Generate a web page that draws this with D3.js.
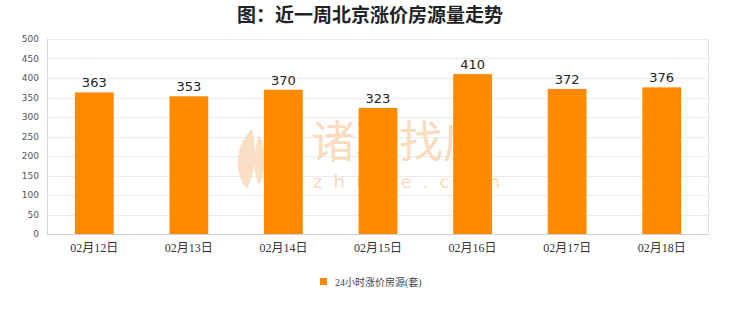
<!DOCTYPE html>
<html>
<head>
<meta charset="utf-8">
<script src="https://cdn.jsdelivr.net/npm/d3@7"></script>
<style>
  html, body { margin: 0; padding: 0; background: #fff; }
  svg { display: block; }
</style>
</head>
<body>
<div id="chart"></div>
<script>
// data
const dates = ['02月12日', '02月13日', '02月14日', '02月15日', '02月16日', '02月17日', '02月18日'];
const counts = [363, 353, 370, 323, 410, 372, 376];
const yTicks = [0, 50, 100, 150, 200, 250, 300, 350, 400, 450, 500];
const title = '图：近一周北京涨价房源量走势';
const seriesName = '24小时涨价房源(套)';

const W = 740, H = 312;
const M = { top: 39, right: 31, bottom: 78, left: 47 };
const innerW = W - M.left - M.right;
const innerH = H - M.top - M.bottom;

const ORANGE = '#ff8a00';
const SERIF = '"Liberation Serif", "DejaVu Serif", "Noto Sans CJK SC", serif';
const SANS = '"DejaVu Sans", "Noto Sans CJK SC", sans-serif';

const svg = d3.select('#chart').append('svg')
  .attr('width', W).attr('height', H)
  .style('background', '#fff');

svg.append('text')
  .attr('x', W / 2).attr('y', 22)
  .attr('text-anchor', 'middle')
  .style('font-family', '"Noto Sans CJK SC", sans-serif')
  .style('font-size', '19px').style('font-weight', 'bold')
  .attr('fill', '#222')
  .text(title);

const inner = svg.append('g').attr('transform', `translate(${M.left},${M.top})`);

const x = d3.scaleBand().domain(dates).range([0, innerW]).paddingInner(0.59).paddingOuter(0.295);
const y = d3.scaleLinear().domain([0, 500]).range([innerH, 0]);

// grid
inner.append('g')
  .selectAll('line').data(yTicks).join('line')
  .attr('x1', 0).attr('x2', innerW)
  .attr('y1', d => Math.round(y(d)) + 0.5).attr('y2', d => Math.round(y(d)) + 0.5)
  .attr('stroke', d => d === 0 ? '#d0d0d0' : '#ebebeb');
inner.append('line')
  .attr('x1', 0.5).attr('x2', 0.5).attr('y1', 0).attr('y2', innerH)
  .attr('stroke', '#d6d6d6');
inner.append('line')
  .attr('x1', innerW - 0.5).attr('x2', innerW - 0.5).attr('y1', 0).attr('y2', innerH)
  .attr('stroke', '#e3e3e3');

// watermark (faint site logo behind the bars)
const wm = inner.append('g').attr('fill', '#f8dcc0');
wm.append('path')
  .attr('d', 'M205,90 C188,105 186,135 200,150 C206,138 212,118 205,90 Z M212,96 C206,112 206,134 212,146 C220,130 220,110 212,96 Z')
  .attr('opacity', 0.9);
wm.append('text')
  .attr('x', 264).attr('y', 119)
  .style('font-family', '"Noto Sans CJK SC", sans-serif')
  .style('font-size', '44px')
  .text('诸葛找房');
wm.append('text')
  .attr('x', 266).attr('y', 149)
  .style('font-family', '"DejaVu Sans", sans-serif')
  .style('font-size', '18px').style('letter-spacing', '11px')
  .text('zhuge.com');

// y axis labels
inner.append('g')
  .selectAll('text').data(yTicks).join('text')
  .attr('x', -8).attr('y', d => y(d)).attr('dy', '0.35em')
  .attr('text-anchor', 'end')
  .style('font-family', SANS).style('font-size', '9px')
  .attr('fill', '#555')
  .text(d => d);

// bars
inner.append('g')
  .selectAll('rect').data(counts).join('rect')
  .attr('x', (d, i) => x(dates[i]))
  .attr('y', d => y(d))
  .attr('width', x.bandwidth())
  .attr('height', d => innerH - y(d))
  .attr('fill', ORANGE);

// value labels
inner.append('g')
  .selectAll('text').data(counts).join('text')
  .attr('x', (d, i) => x(dates[i]) + x.bandwidth() / 2)
  .attr('y', d => y(d) - 5)
  .attr('text-anchor', 'middle')
  .style('font-family', SANS).style('font-size', '13px')
  .attr('fill', '#222')
  .text(d => d);

// x labels
inner.append('g')
  .selectAll('text').data(dates).join('text')
  .attr('x', d => x(d) + x.bandwidth() / 2)
  .attr('y', innerH + 18)
  .attr('text-anchor', 'middle')
  .style('font-family', SERIF).style('font-size', '12px')
  .attr('fill', '#333')
  .text(d => d);

// legend
const lg = svg.append('g').attr('transform', 'translate(320,278)');
lg.append('rect').attr('width', 7).attr('height', 7).attr('fill', ORANGE);
lg.append('text')
  .attr('x', 15).attr('y', 4).attr('dy', '0.35em')
  .style('font-family', SERIF).style('font-size', '10px')
  .attr('fill', '#444')
  .text(seriesName);
</script>
</body>
</html>
